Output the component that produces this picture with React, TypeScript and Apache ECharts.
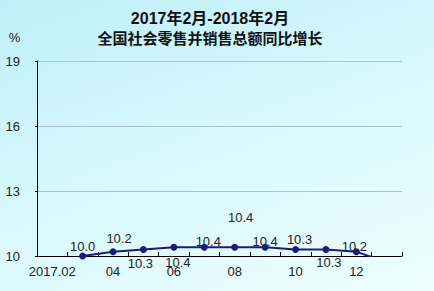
import React, { useEffect, useRef } from "react";
import * as echarts from "echarts";

const categories = ["2017.02", "03", "04", "05", "06", "07", "08", "09", "10", "11", "12", "2018.02"];
const growth = [9.5, 10.0, 10.2, 10.3, 10.4, 10.4, 10.4, 10.4, 10.3, 10.3, 10.2, 9.7];
const yTicks = { min: 10, max: 19, interval: 3 };
const titleLine1 = "2017年2月-2018年2月";
const titleLine2 = "全国社会零售并销售总额同比增长";
const unitLabel = "%";

// label placement (style only): offset of each value label from its point
const labelOffsets: (number[] | null)[] = [
  null, [0, -10], [6, -13], [-3, 14], [4, 15], [4, -6], [6, -30], [0, -6], [4, -10], [3, 13], [-2, -5], null,
];

export default function App() {
  const ref = useRef<HTMLDivElement>(null);
  useEffect(() => {
    if (!ref.current) return;
    const chart = echarts.init(ref.current, null, { renderer: "svg" });
    const font = '"Liberation Sans", Arial, "Noto Sans CJK SC", sans-serif';
    const seriesData = growth.map((v, i) => {
      const off = labelOffsets[i];
      return {
        value: v,
        label: off
          ? { show: true, position: "inside", offset: off }
          : { show: false },
        symbol: off ? "circle" : "none",
      };
    });
    chart.setOption({
      animation: false,
      backgroundColor: "transparent",
      textStyle: { fontFamily: font },
      grid: { left: 37, right: 32, top: 61, bottom: 35 },
      graphic: [
        {
          type: "text",
          x: 210,
          y: 18,
          style: {
            text: titleLine1,
            font: `bold 16px ${font}`,
            fill: "#111",
            textAlign: "center",
            textVerticalAlign: "middle",
          },
        },
        {
          type: "text",
          x: 210,
          y: 38.5,
          style: {
            text: titleLine2,
            font: `bold 15px ${font}`,
            fill: "#111",
            textAlign: "center",
            textVerticalAlign: "middle",
          },
        },
        {
          type: "text",
          x: 14.5,
          y: 37.5,
          style: {
            text: unitLabel,
            font: `13px ${font}`,
            fill: "#222",
            textAlign: "center",
            textVerticalAlign: "middle",
          },
        },
      ],
      xAxis: {
        type: "category",
        data: categories,
        boundaryGap: true,
        axisLine: { show: true, lineStyle: { color: "#000", width: 1 } },
        axisTick: { show: true, inside: true, length: 4, interval: 0, lineStyle: { color: "#000" } },
        axisLabel: { interval: 1, fontSize: 13, color: "#222", margin: 9, fontFamily: font },
        splitLine: { show: false },
      },
      yAxis: {
        type: "value",
        min: yTicks.min,
        max: yTicks.max,
        interval: yTicks.interval,
        axisLine: { show: true, lineStyle: { color: "#000", width: 1 } },
        axisTick: { show: true, length: 2, lineStyle: { color: "#000" } },
        axisLabel: { fontSize: 13, color: "#222", margin: 17, fontFamily: font },
        splitLine: { show: true, lineStyle: { color: "#a7c3cc", width: 1 } },
      },
      series: [
        {
          type: "line",
          data: seriesData,
          clip: true,
          symbol: "circle",
          symbolSize: 7,
          showAllSymbol: true,
          color: "#1c1c78",
          lineStyle: { color: "#1c1c78", width: 2 },
          itemStyle: { color: "#1c1c78" },
          label: {
            show: true,
            fontSize: 13,
            color: "#222",
            fontFamily: font,
            formatter: (p: any) => Number(p.value).toFixed(1),
          },
        },
      ],
    });
    return () => chart.dispose();
  }, []);
  return (
    <div
      style={{
        position: "fixed",
        left: 0,
        top: 0,
        width: 434,
        height: 291,
        background: "linear-gradient(160deg, #bfeff8 0%, #d6f8fc 45%, #eefefe 100%)",
      }}
    >
      <div ref={ref} style={{ width: 434, height: 291 }} />
    </div>
  );
}
